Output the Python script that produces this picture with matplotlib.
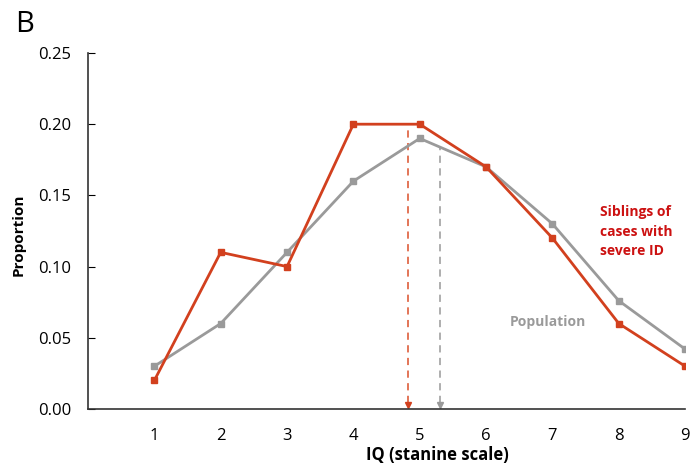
import matplotlib
matplotlib.use("Agg")
import matplotlib.pyplot as plt

stanine = [1, 2, 3, 4, 5, 6, 7, 8, 9]
siblings = [0.02, 0.11, 0.10, 0.20, 0.20, 0.17, 0.12, 0.06, 0.03]
population = [0.03, 0.06, 0.11, 0.16, 0.19, 0.17, 0.13, 0.076, 0.042]
sib_mean, sib_top = 4.82, 0.20
pop_mean, pop_top = 5.30, 0.184

RED = "#D2401E"
GREY = "#9A9A9A"

plt.rcParams["font.family"] = ["Open Sans", "DejaVu Sans"]

fig = plt.figure(figsize=(6.9, 4.69), dpi=100)
ax = fig.add_axes([0.1275, 0.128, 0.8655, 0.759])

ax.plot(stanine, population, color=GREY, lw=2, marker="s", ms=5, zorder=3)
ax.plot(stanine, siblings, color=RED, lw=2, marker="s", ms=5, zorder=4)

# mean arrows
ax.vlines(sib_mean, 0.004, sib_top, colors="#E06A4A", linestyles=(0, (4, 3)), lw=1.3)
ax.plot(sib_mean, 0.003, marker="v", color=RED, ms=5, clip_on=False)
ax.vlines(pop_mean, 0.004, pop_top, colors="#A8A8A8", linestyles=(0, (4, 3)), lw=1.3)
ax.plot(pop_mean, 0.003, marker="v", color=GREY, ms=5, clip_on=False)

ax.text(7.72, 0.143, "Siblings of\ncases with\nsevere ID", color="#CC1111",
        fontsize=10, fontweight="bold", va="top", ha="left", linespacing=1.5)
ax.text(6.36, 0.061, "Population", color=GREY, fontsize=10,
        fontweight="bold", va="center", ha="left")

ax.set_xlim(0, 9)
ax.set_ylim(0, 0.25)
ax.set_xticks(stanine)
ax.set_yticks([0, 0.05, 0.10, 0.15, 0.20, 0.25])
ax.set_yticklabels(["0.00", "0.05", "0.10", "0.15", "0.20", "0.25"])
ax.tick_params(axis="x", length=0, labelsize=12, pad=14)
ax.tick_params(axis="y", direction="in", length=5, labelsize=12, pad=12)
for s in ["top", "right"]:
    ax.spines[s].set_visible(False)
for s in ["left", "bottom"]:
    ax.spines[s].set_linewidth(1.2)
    ax.spines[s].set_color("#333333")

ax.set_xlabel("IQ (stanine scale)", fontsize=12, fontweight="bold")
ax.xaxis.set_label_coords(0.585, -0.105)
ax.set_ylabel("Proportion", fontsize=11, fontweight="bold")
ax.yaxis.set_label_coords(-0.105, 0.49)

fig.text(0.022, 0.947, "B", fontsize=21, va="center", ha="left")

fig.savefig("out.png", dpi=100)
